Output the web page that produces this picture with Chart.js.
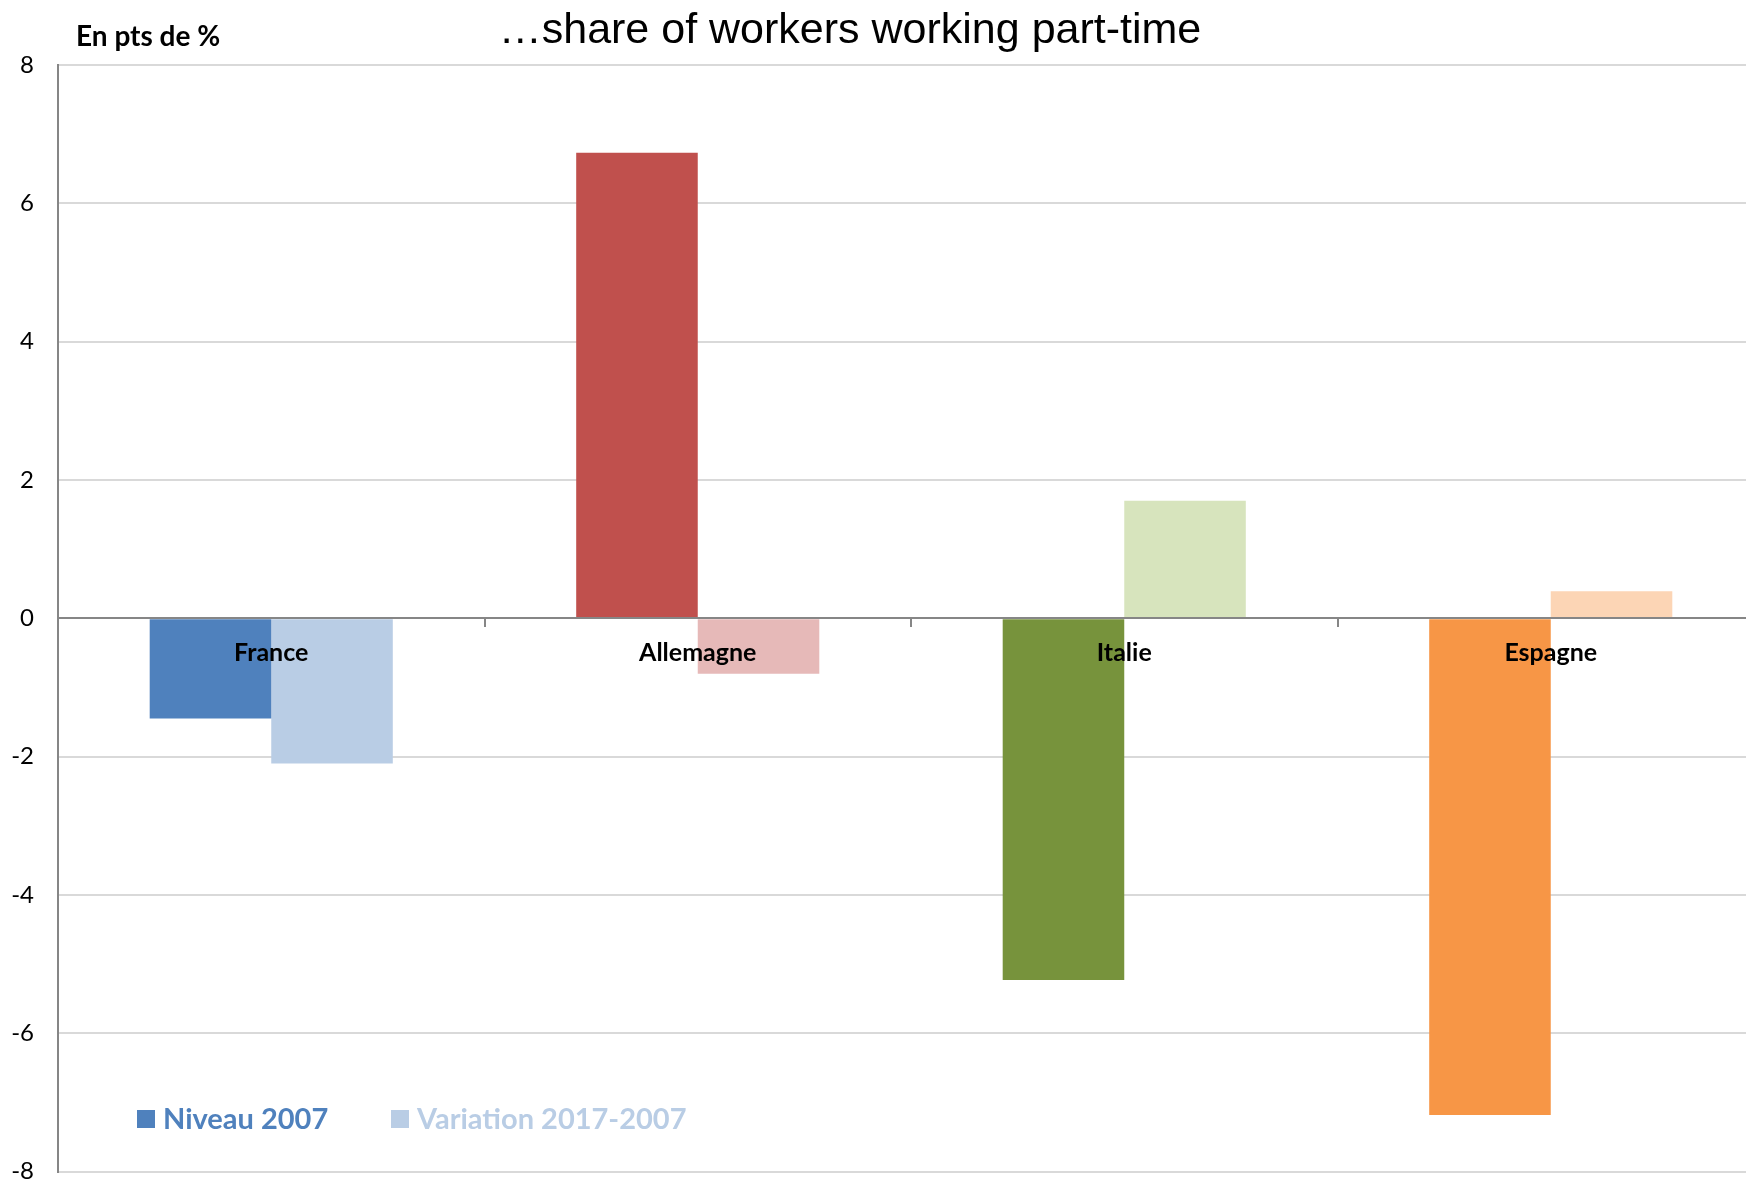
<!DOCTYPE html>
<html>
<head>
<meta charset="utf-8">
<script src="https://cdn.jsdelivr.net/npm/chart.js@4.4.1/dist/chart.umd.min.js"></script>
<style>
  html, body { margin: 0; padding: 0; background: #fff; overflow: hidden; }
</style>
</head>
<body>
<canvas id="chart" width="1766" height="1210"></canvas>
<script>
// data
const countries = ['France', 'Allemagne', 'Italie', 'Espagne'];
const niveau2007 = [-1.45, 6.73, -5.23, -7.18];
const variation = [-2.1, -0.8, 1.7, 0.39];
const niveauColors = ['#4F81BD', '#C0504D', '#77933C', '#F79646'];
const variationColors = ['#B9CDE5', '#E6B9B8', '#D7E4BD', '#FCD5B5'];
const yTicks = [-8, -6, -4, -2, 0, 2, 4, 6, 8];

const TITLE = '\u2026share of workers working part-time';
const UNIT = 'En pts de %';

// title, unit label and the in-plot legend
const decorations = {
    id: 'decorations',
    afterDraw(chart) {
        const ctx = chart.ctx;
        ctx.save();
        ctx.fillStyle = '#000';
        ctx.textBaseline = 'middle';
        ctx.font = '43px "Liberation Sans", Arial, sans-serif';
        ctx.textAlign = 'center';
        ctx.fillText(TITLE, 850, 31);

        ctx.font = 'bold 28px Lato, sans-serif';
        ctx.textAlign = 'left';
        ctx.fillText(UNIT, 76, 37);

        // legend (first colour of each series)
        const items = [
            { x: 137, label: chart.data.datasets[0].label, color: niveauColors[0] },
            { x: 391, label: chart.data.datasets[1].label, color: variationColors[0] }
        ];
        ctx.font = 'bold 29px Lato, sans-serif';
        items.forEach(it => {
            ctx.fillStyle = it.color;
            ctx.fillRect(it.x, 1110, 18, 18);
            ctx.fillText(it.label, it.x + 26, 1120);
        });
        ctx.restore();
    }
};

const ctx = document.getElementById('chart').getContext('2d');
const chart = new Chart(ctx, {
    type: 'bar',
    data: {
        labels: countries,
        datasets: [
            {
                label: 'Niveau 2007',
                data: niveau2007,
                backgroundColor: niveauColors,
                barPercentage: 1,
                categoryPercentage: 0.57
            },
            {
                label: 'Variation 2017-2007',
                data: variation,
                backgroundColor: variationColors,
                barPercentage: 1,
                categoryPercentage: 0.57
            }
        ]
    },
    options: {
        responsive: false,
        animation: false,
        devicePixelRatio: 1,
        layout: { padding: { top: 65, bottom: 11, left: 0, right: 2 } },
        plugins: {
            legend: { display: false },
            tooltip: { enabled: false }
        },
        scales: {
            x: {
                position: { y: 0 },
                offset: true,
                afterFit: s => { s.height = 0; },
                grid: {
                    display: true,
                    drawOnChartArea: false,
                    offset: true,
                    tickLength: 8,
                    color: '#868686',
                    lineWidth: 2,
                    z: 1
                },
                border: { display: true, color: '#868686', width: 2, z: 1 },
                ticks: {
                    color: '#000',
                    padding: 12,
                    z: 1,
                    font: { family: 'Lato', weight: 'bold', size: 25 }
                }
            },
            y: {
                min: -8,
                max: 8,
                afterBuildTicks: s => { s.ticks = yTicks.map(v => ({ value: v })); },
                afterFit: s => { s.width = 58; },
                grid: { color: '#D9D9D9', lineWidth: 2, drawTicks: false },
                border: { display: true, color: '#868686', width: 2 },
                ticks: {
                    color: '#000',
                    padding: 24,
                    font: { family: 'Lato', size: 24 }
                }
            }
        }
    },
    plugins: [decorations]
});
</script>
</body>
</html>
